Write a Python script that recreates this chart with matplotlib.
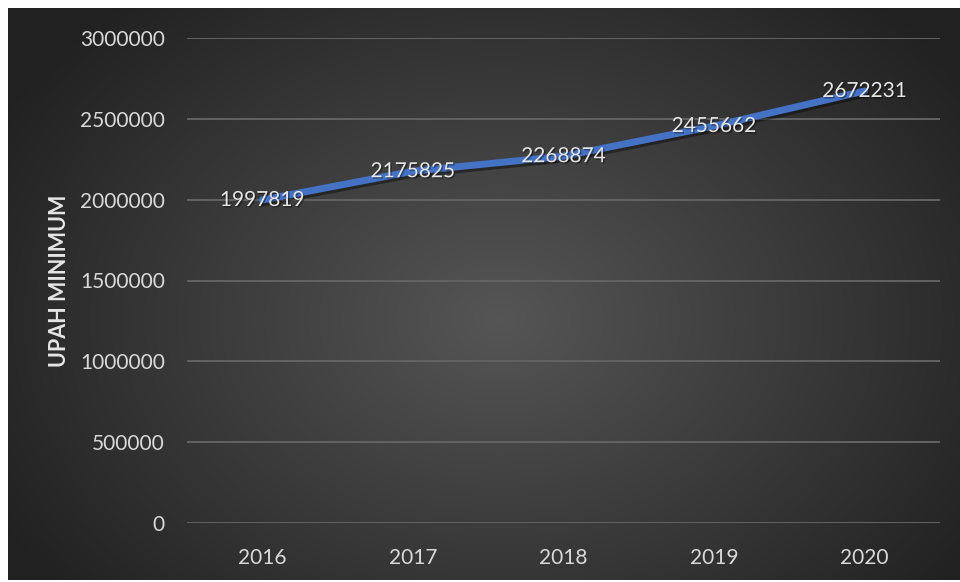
import numpy as np
import matplotlib.pyplot as plt
import matplotlib.patheffects as pe

# minimum wage by year
tahun = ['2016', '2017', '2018', '2019', '2020']
upah = [1997819, 2175825, 2268874, 2455662, 2672231]
yticks = [0, 500000, 1000000, 1500000, 2000000, 2500000, 3000000]

plt.rcParams['font.family'] = ['Lato', 'DejaVu Sans']

fig = plt.figure(figsize=(9.6, 5.82), dpi=100, facecolor='white')

# dark radial background panel
bg = fig.add_axes([8 / 960, 2 / 582, 952 / 960, 572 / 582])
bg.set_axis_off()
gx, gy = np.meshgrid(np.linspace(0, 952, 400), np.linspace(0, 572, 240))
cx, cy = 500 - 8, 320 - 8
r = np.sqrt(((gx - cx) / 560) ** 2 + ((gy - cy) / 420) ** 2)
shade = np.clip(0.335 - 0.20 * r, 0.13, 0.34)
bg.imshow(np.dstack([shade] * 3), aspect='auto', extent=(0, 1, 0, 1),
          origin='upper', interpolation='bilinear')
bg.set_xlim(0, 1)
bg.set_ylim(0, 1)

ax = fig.add_axes([187 / 960, 59 / 582, 753 / 960, 485 / 582])
ax.patch.set_alpha(0)
x = np.arange(len(tahun))

ax.plot(x, upah, color='#4472C4', lw=5, solid_capstyle='round', zorder=3,
        path_effects=[pe.SimpleLineShadow(offset=(1, -2), shadow_color='black', alpha=0.4),
                      pe.Normal()])

for xi, v in zip(x, upah):
    ax.text(xi, v, str(v), ha='center', va='center', color='#e6e6e6',
            fontsize=15, zorder=4,
            path_effects=[pe.withSimplePatchShadow(offset=(1, -1), shadow_rgbFace='black', alpha=0.4)])

ax.set_xlim(-0.5, len(tahun) - 0.5)
ax.set_ylim(0, 3000000)
ax.set_xticks(x)
ax.set_xticklabels(tahun)
ax.set_yticks(yticks)
ax.set_yticklabels([str(t) for t in yticks])
ax.tick_params(axis='both', length=0, labelsize=15, colors='#d9d9d9')
ax.tick_params(axis='y', pad=16)
ax.tick_params(axis='x', pad=18)
ax.grid(axis='y', color='#636363', lw=1.4)
ax.set_axisbelow(True)
for s in ax.spines.values():
    s.set_visible(False)

ax.set_ylabel('UPAH MINIMUM', color='#e6e6e6', fontsize=15.5, fontweight='bold', labelpad=7)

fig.savefig('out.png', dpi=100, facecolor='white')
